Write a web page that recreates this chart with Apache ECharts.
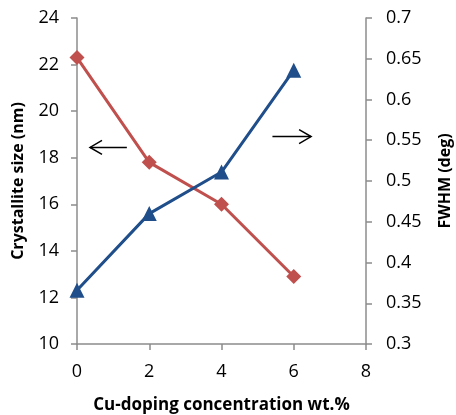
<!DOCTYPE html>
<html><head><meta charset="utf-8">
<script src="https://cdn.jsdelivr.net/npm/echarts@6/dist/echarts.min.js"></script>
<style>html,body{margin:0;padding:0;background:#fff}#c{width:456px;height:415px}</style>
</head><body><div id="c"></div>
<script>
const categories = [0, 2, 4, 6];
const crystalliteSize = [22.3, 17.8, 16.0, 12.9];
const fwhm = [0.366, 0.46, 0.511, 0.636];
const xTicks = [0, 2, 4, 6, 8];
const leftTicks = [10, 12, 14, 16, 18, 20, 22, 24];
const rightTicks = [0.3, 0.35, 0.4, 0.45, 0.5, 0.55, 0.6, 0.65, 0.7];
// arrow annotations in data coordinates (x, left-axis y)
const leftArrow = {from: [1.38, 18.44], to: [0.36, 18.44]};
const rightArrow = {from: [5.41, 18.91], to: [6.48, 18.91]};

const FONT = '"Open Sans", sans-serif';
const axisColor = '#8c8c8c';
const chart = echarts.init(document.getElementById('c'), null, {renderer: 'canvas'});
const option = {
  animation: false,
  grid: {left: 77, right: 90, top: 18, bottom: 71, containLabel: false, outerBoundsMode: 'none'},
  xAxis: {
    type: 'value', min: xTicks[0], max: xTicks[xTicks.length - 1], interval: 2,
    name: 'Cu-doping concentration wt.%', nameLocation: 'middle', nameGap: 53,
    nameTextStyle: {fontFamily: FONT, fontWeight: 'bold', fontSize: 17, color: '#000'},
    axisLine: {show: true, lineStyle: {color: axisColor, width: 1.5}},
    axisTick: {show: true, length: 6, lineStyle: {color: axisColor, width: 1.5}},
    axisLabel: {fontFamily: FONT, fontSize: 18, color: '#000', margin: 19},
    splitLine: {show: false}
  },
  yAxis: [{
    type: 'value', min: leftTicks[0], max: leftTicks[leftTicks.length - 1], interval: 2,
    name: 'Crystallite size (nm)', nameLocation: 'middle', nameGap: 51, nameRotate: 90,
    nameTextStyle: {fontFamily: FONT, fontWeight: 'bold', fontSize: 16, color: '#000'},
    axisLine: {show: true, lineStyle: {color: axisColor, width: 1.5}},
    axisTick: {show: true, length: 6, lineStyle: {color: axisColor, width: 1.5}},
    axisLabel: {fontFamily: FONT, fontSize: 18, color: '#000', margin: 18},
    splitLine: {show: false}
  }, {
    type: 'value', min: rightTicks[0], max: rightTicks[rightTicks.length - 1], interval: 0.05,
    position: 'right',
    name: 'FWHM (deg)', nameLocation: 'middle', nameGap: 71, nameRotate: 90,
    nameTextStyle: {fontFamily: FONT, fontWeight: 'bold', fontSize: 16, color: '#000'},
    axisLine: {show: true, lineStyle: {color: axisColor, width: 1.5}},
    axisTick: {show: true, length: 6, lineStyle: {color: axisColor, width: 1.5}},
    axisLabel: {fontFamily: FONT, fontSize: 18, color: '#000', margin: 20,
      formatter: v => String(parseFloat(v.toFixed(2)))},
    splitLine: {show: false}
  }],
  series: [{
    type: 'line', yAxisIndex: 0,
    data: categories.map((x, i) => [x, crystalliteSize[i]]),
    symbol: 'diamond', symbolSize: 15,
    lineStyle: {color: '#C0504D', width: 3},
    itemStyle: {color: '#C0504D'}
  }, {
    type: 'line', yAxisIndex: 1,
    data: categories.map((x, i) => [x, fwhm[i]]),
    symbol: 'triangle', symbolSize: 15,
    lineStyle: {color: '#1F4E8A', width: 3},
    itemStyle: {color: '#1F4E8A'}
  }]
};
chart.setOption(option);

function arrowGraphic(a) {
  const p1 = chart.convertToPixel({xAxisIndex: 0, yAxisIndex: 0}, a.from);
  const p2 = chart.convertToPixel({xAxisIndex: 0, yAxisIndex: 0}, a.to);
  const dir = Math.sign(p2[0] - p1[0]);
  const hl = 12, hw = 7;
  return [{
    type: 'line', shape: {x1: p1[0], y1: p1[1], x2: p2[0], y2: p2[1]},
    style: {stroke: '#000', lineWidth: 1.5}
  }, {
    type: 'polyline',
    shape: {points: [[p2[0] - dir * hl, p2[1] - hw], [p2[0], p2[1]], [p2[0] - dir * hl, p2[1] + hw]]},
    style: {stroke: '#000', lineWidth: 1.5, fill: null}
  }];
}
chart.setOption({graphic: [...arrowGraphic(leftArrow), ...arrowGraphic(rightArrow)]});
</script></body></html>
